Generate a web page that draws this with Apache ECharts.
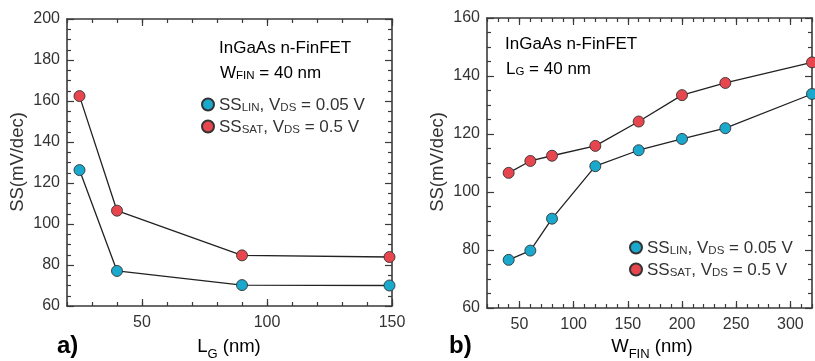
<!DOCTYPE html>
<html>
<head>
<meta charset="utf-8">
<script src="https://cdn.jsdelivr.net/npm/echarts@6/dist/echarts.min.js"></script>
<style>
  html, body { margin: 0; padding: 0; background: #fff; }
  #chart { width: 815px; height: 361px; }
</style>
</head>
<body>
<div id="chart"></div>
<script>
// (a) subthreshold swing vs. gate length, W_FIN = 40 nm
const LG_NM = [25, 40, 90, 149];
const SS_LIN_LG = [126.3, 77.1, 70.2, 70.0];
const SS_SAT_LG = [162.4, 106.5, 84.7, 83.9];

// (b) subthreshold swing vs. fin width, L_G = 40 nm
const WFIN_NM = [40, 60, 80, 120, 160, 200, 240, 320];
const SS_LIN_W = [76.6, 79.8, 90.8, 108.9, 114.4, 118.3, 122.0, 133.8];
const SS_SAT_W = [106.6, 110.7, 112.5, 115.9, 124.3, 133.4, 137.6, 144.7];

// Labelled (major) x tick values; y axes are labelled every 20
const LG_TICKS = [50, 100, 150];
const WFIN_TICKS = [50, 100, 150, 200, 250, 300];

const FONT = '"Liberation Sans", Arial, Helvetica, sans-serif';
const TEXT = '#333';
const AXIS = '#3a3a3a';
const C_LIN = '#1aa8cc';
const C_SAT = '#e8464e';

const pairs = (xs, ys) => xs.map((x, i) => [x, ys[i]]);

function ax(grid, pos, min, max, step, extra) {
  return Object.assign({
    type: 'value', gridIndex: grid, min: min, max: max, interval: step, position: pos,
    splitLine: { show: false },
    axisLine: { show: true, onZero: false, lineStyle: { color: AXIS, width: 1.6 } },
    axisTick: { show: true, inside: true, length: 4, lineStyle: { color: AXIS, width: 1.2 } },
    axisLabel: { show: false }
  }, extra || {});
}

// x axes: ticks every 10, labels only on the listed values
const xLabel = (vals) => ({
  show: true, margin: 9, color: TEXT, fontSize: 16, fontFamily: FONT,
  formatter: (v) => (vals.indexOf(v) >= 0 ? String(v) : '')
});
// longer ticks at the labelled x values, drawn by an overlaid axis
const xMajor = (vals) => ({
  axisLine: { show: false },
  axisTick: { show: true, inside: true, length: 7, customValues: vals, lineStyle: { color: AXIS, width: 1.2 } }
});
// y axes: major ticks every 20 with four minor divisions
const yTicks = (labels) => ({
  axisTick: { show: true, inside: true, length: 7, lineStyle: { color: AXIS, width: 1.2 } },
  minorTick: { show: true, splitNumber: 4, length: 4, lineStyle: { color: AXIS, width: 1.2 } },
  axisLabel: labels
    ? { show: true, margin: 7, color: TEXT, fontSize: 16, fontFamily: FONT }
    : { show: false }
});

function curve(name, data, color, xi, yi) {
  return {
    type: 'line', name: name, data: data, xAxisIndex: xi, yAxisIndex: yi,
    symbol: 'circle', symbolSize: 11,
    lineStyle: { color: '#222', width: 1.3 },
    itemStyle: { color: color, borderColor: '#333', borderWidth: 0.9 }
  };
}

const rich = {
  m: { fontSize: 17, fontFamily: FONT, color: TEXT, verticalAlign: 'bottom', lineHeight: 19 },
  s: { fontSize: 11.5, fontFamily: FONT, color: TEXT, verticalAlign: 'bottom', lineHeight: 19 },
  t: { fontSize: 18.5, fontFamily: FONT, color: TEXT, verticalAlign: 'middle', lineHeight: 28 },
  sub: { fontSize: 13, fontFamily: FONT, color: TEXT, verticalAlign: 'bottom', lineHeight: 13 },
  b: { fontSize: 24, fontFamily: FONT, color: '#111', fontWeight: 'bold' }
};

function legend(left, top) {
  return {
    left: left, top: top, orient: 'vertical', padding: 0,
    itemWidth: 12, itemHeight: 12, itemGap: 3,
    icon: 'circle', selectedMode: false,
    data: ['SS_LIN', 'SS_SAT'],
    formatter: (name) => name === 'SS_LIN'
      ? '{m|SS}{s|LIN}{m|, V}{s|DS}{m| = 0.05 V}'
      : '{m|SS}{s|SAT}{m|, V}{s|DS}{m| = 0.5 V}',
    textStyle: { rich: rich, lineHeight: 19 }
  };
}

function label(x, y, text, align) {
  return {
    type: 'text', x: x, y: y,
    style: { text: text, rich: rich, align: align || 'left', verticalAlign: 'middle' }
  };
}

function yTitle(x) {
  return {
    type: 'text', x: x, y: 162, rotation: Math.PI / 2,
    style: { text: 'SS(mV/dec)', align: 'center', verticalAlign: 'middle', fontSize: 18.5, fontFamily: FONT, fill: TEXT }
  };
}

const chart = echarts.init(document.getElementById('chart'));

// grids, axes and curves
chart.setOption({
  animation: false,
  grid: [
    { left: 67, right: 423, top: 19, bottom: 55 },
    { left: 487, right: 1, top: 18, bottom: 53 }
  ],
  xAxis: [
    ax(0, 'bottom', 20, 150, 10, { axisLabel: xLabel(LG_TICKS) }),
    ax(0, 'top', 20, 150, 10),
    ax(1, 'bottom', 20, 320, 10, { axisLabel: xLabel(WFIN_TICKS) }),
    ax(1, 'top', 20, 320, 10),
    ax(0, 'bottom', 20, 150, 10, xMajor(LG_TICKS)),
    ax(0, 'top', 20, 150, 10, xMajor(LG_TICKS)),
    ax(1, 'bottom', 20, 320, 10, xMajor(WFIN_TICKS)),
    ax(1, 'top', 20, 320, 10, xMajor(WFIN_TICKS))
  ],
  yAxis: [
    ax(0, 'left', 60, 200, 20, yTicks(true)),
    ax(0, 'right', 60, 200, 20, yTicks(false)),
    ax(1, 'left', 60, 160, 20, yTicks(true)),
    ax(1, 'right', 60, 160, 20, yTicks(false))
  ],
  series: [
    curve('SS_LIN', pairs(LG_NM, SS_LIN_LG), C_LIN, 0, 0),
    curve('SS_SAT', pairs(LG_NM, SS_SAT_LG), C_SAT, 0, 0),
    curve('SS_LIN', pairs(WFIN_NM, SS_LIN_W), C_LIN, 2, 2),
    curve('SS_SAT', pairs(WFIN_NM, SS_SAT_W), C_SAT, 2, 2)
  ]
});

// annotations and axis titles
chart.setOption({
  graphic: [
    label(219, 47, '{m|InGaAs n-FinFET}'),
    label(220, 72, '{m|W}{s|FIN}{m| = 40 nm}'),
    label(505, 43, '{m|InGaAs n-FinFET}'),
    label(506, 68, '{m|L}{s|G}{m| = 40 nm}'),
    yTitle(18),
    yTitle(438),
    label(229, 347, '{t|L}{sub|G}{t| (nm)}', 'center'),
    label(652, 347, '{t|W}{sub|FIN}{t| (nm)}', 'center'),
    label(57, 346, '{b|a)}'),
    label(449, 346, '{b|b)}')
  ]
});

// legends inside each panel
chart.setOption({ legend: [legend(201, 95), legend(629, 238)] });
</script>
</body>
</html>
